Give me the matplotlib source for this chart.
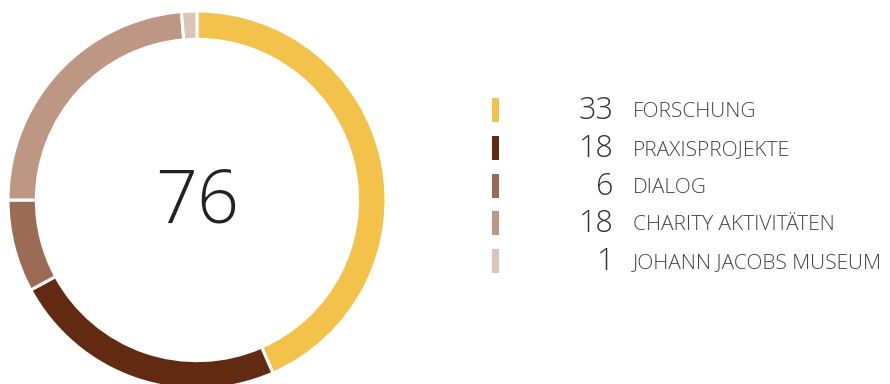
import matplotlib
matplotlib.use("Agg")
import matplotlib.pyplot as plt
from matplotlib.patches import Rectangle

# data
categories = ["FORSCHUNG", "PRAXISPROJEKTE", "DIALOG", "CHARITY AKTIVITÄTEN", "JOHANN JACOBS MUSEUM"]
values = [33, 18, 6, 18, 1]
colors = ["#F3C24B", "#622A10", "#9C6B55", "#BE9784", "#DCC4B7"]
total_label = str(sum(values))

FONT = "Open Sans"

W, H = 890, 384
fig = plt.figure(figsize=(W / 100, H / 100), dpi=100)

# donut, centre (197, 200) px, outer radius 189 px
cx, cy, R = 197, 200, 189
ax = fig.add_axes([(cx - R) / W, (H - cy - R) / H, 2 * R / W, 2 * R / H])
ax.pie(values, colors=colors, startangle=90, counterclock=False, radius=1.0,
       wedgeprops=dict(width=0.15, edgecolor="white", linewidth=2.2))
ax.set_xlim(-1, 1)
ax.set_ylim(-1, 1)
ax.set_aspect("equal")
ax.axis("off")
ax.text(0, -0.02, total_label, ha="center", va="center", fontsize=53,
        family=FONT, weight="light", color="#222222")

# legend in pixel coords
lg = fig.add_axes([0, 0, 1, 1])
lg.set_xlim(0, W)
lg.set_ylim(H, 0)
lg.axis("off")
row_y0, row_step = 110, 37.8
for i, (cat, val, col) in enumerate(zip(categories, values, colors)):
    y = row_y0 + i * row_step
    lg.add_patch(Rectangle((492, y - 12), 7, 24, facecolor=col, edgecolor="none"))
    lg.text(614, y + 1, str(val), ha="right", va="center", fontsize=22,
            family=FONT, weight="light", color="#333333")
    lg.text(633, y + 2, cat, ha="left", va="center", fontsize=15,
            family=FONT, weight="light", color="#444444")

fig.savefig("out.png", dpi=100)
